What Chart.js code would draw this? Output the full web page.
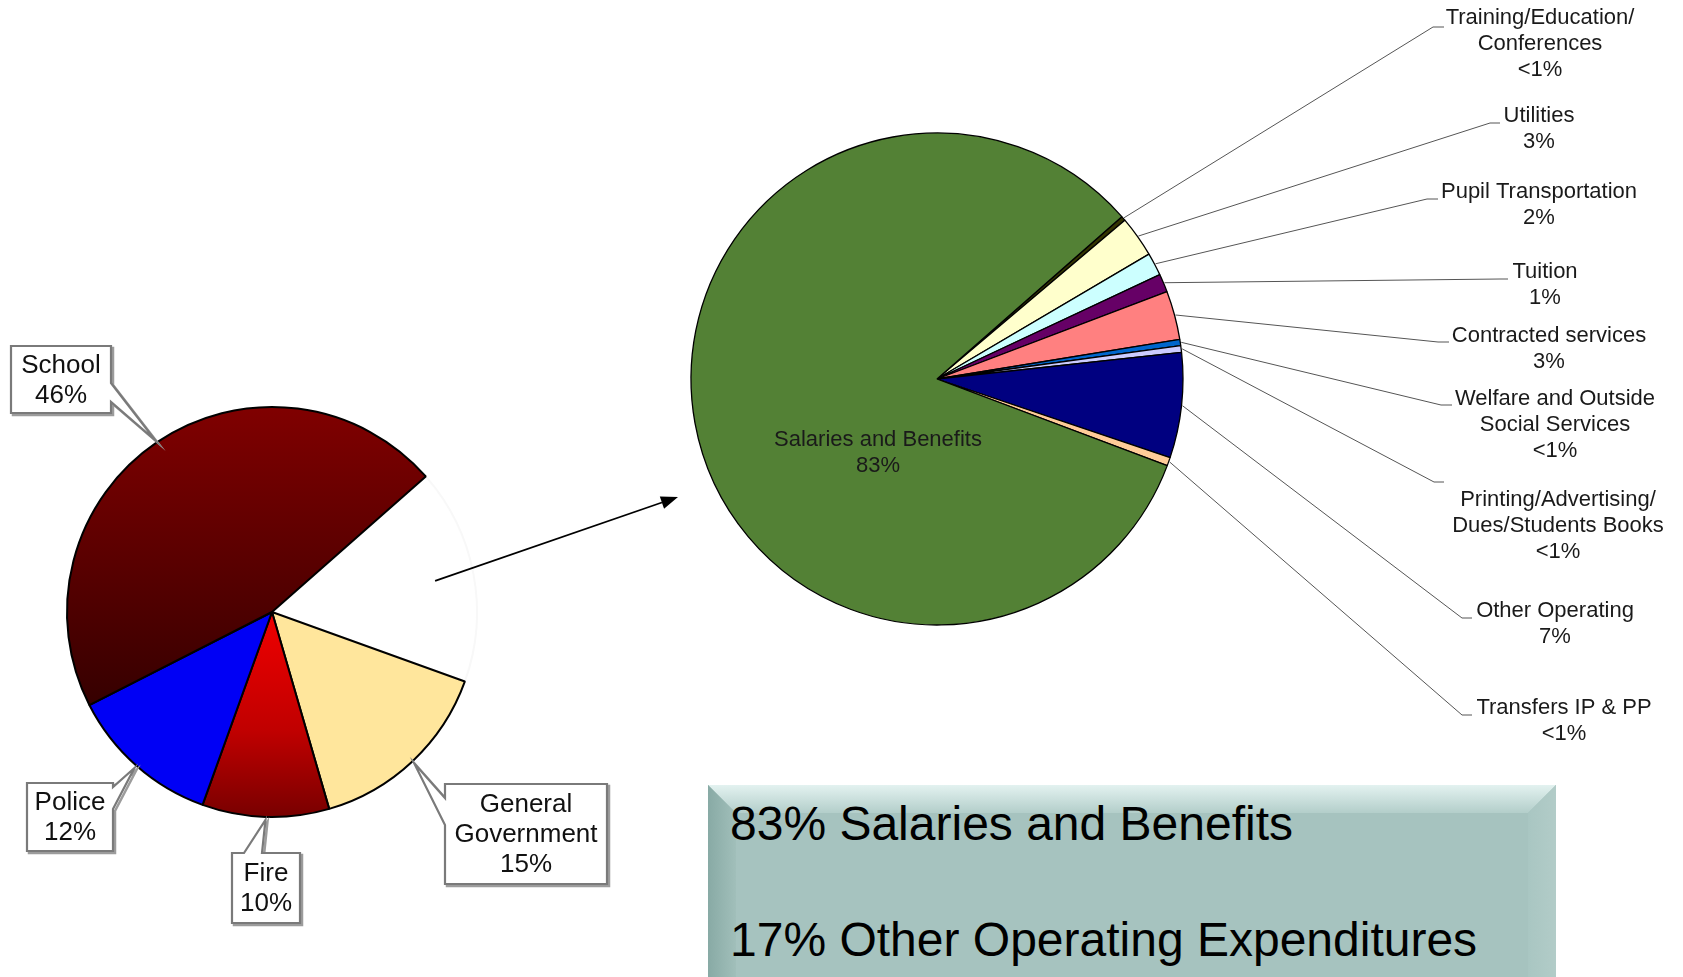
<!DOCTYPE html>
<html>
<head>
<meta charset="utf-8">
<title>Operating Expenditures</title>
<script src="https://cdn.jsdelivr.net/npm/chart.js@4.4.1/dist/chart.umd.min.js"></script>
<style>
  html, body { margin: 0; padding: 0; background: #fff; overflow: hidden; }
  body { position: relative; width: 1683px; height: 977px; font-family: 'Liberation Sans', Arial, sans-serif; }
  canvas { position: absolute; left: 0; top: 0; }
  .summary {
    position: absolute; left: 708px; top: 785px; width: 848px; height: 225px;
    background: #a6c3bf; box-shadow: inset 0 0 0 1px #93b5b0; overflow: hidden;
  }
  .bevel { position: absolute; left: 0; top: 0; right: 0; bottom: 0; }
  .bevel.top {
    background: linear-gradient(#e3f2f0, #b3cecA 28px, transparent 28px);
    clip-path: polygon(0 0, 100% 0, calc(100% - 28px) 28px, 28px 28px);
  }
  .bevel.left {
    background: linear-gradient(to right, #88aaa5, #a1bfba 28px, transparent 28px);
    clip-path: polygon(0 0, 28px 28px, 28px calc(100% - 28px), 0 100%);
  }
  .bevel.right {
    background: linear-gradient(to left, #b2ccc8, #a9c6c2 28px, transparent 28px);
    clip-path: polygon(100% 0, 100% 100%, calc(100% - 28px) calc(100% - 28px), calc(100% - 28px) 28px);
  }
  .summary .line {
    position: absolute; left: 22px; white-space: nowrap;
    font: 48px/48px 'Liberation Sans', Arial, sans-serif; color: #000;
  }
</style>
</head>
<body>
<canvas id="budgetChart" width="1683" height="977"></canvas>
<canvas id="operatingChart" width="1683" height="977"></canvas>
<div class="summary">
  <div class="bevel top"></div>
  <div class="bevel left"></div>
  <div class="bevel right"></div>
  <div class="line" id="summaryLine1" style="top:15px"></div>
  <div class="line" id="summaryLine2" style="top:131px"></div>
</div>
<script>
// Town budget by department (the blank slice is the part broken out on the right)
const budgetLabels = ['Other', 'General Government', 'Fire', 'Police', 'School'];
const budgetValues = [17, 15, 10, 12, 46];

// Breakdown of that slice
const operatingLabels = [
  ['Training/Education/', 'Conferences'],
  ['Utilities'],
  ['Pupil Transportation'],
  ['Tuition'],
  ['Contracted services'],
  ['Welfare and Outside', 'Social Services'],
  ['Printing/Advertising/', 'Dues/Students Books'],
  ['Other Operating'],
  ['Transfers IP & PP'],
  ['Salaries and Benefits'],
];
const operatingValues = [0.3, 2.7, 1.5, 1.2, 3.2, 0.4, 0.45, 6.9, 0.55, 82.8];
const operatingColors = ['#333300', '#ffffcc', '#ccffff', '#660066', '#ff8080',
  '#0066cc', '#ccccff', '#000080', '#ffcc99', '#538135'];

const pctText = (v) => (v < 1 ? '<1%' : Math.round(v) + '%');

// callout boxes for the left pie: box rect, which side the pointer leaves from, pointer base offsets
const calloutBoxes = {
  'School': { x: 11, y: 346, w: 100, h: 67, edge: 'right', base: [37, 56] },
  'Police': { x: 27, y: 783, w: 86, h: 68, edge: 'right', base: [4, 26] },
  'Fire': { x: 232, y: 853, w: 68, h: 70, edge: 'top', base: [12, 30] },
  'General Government': { x: 445, y: 784, w: 162, h: 100, edge: 'left', base: [14, 41] },
};

// label placement for the right pie (text centre, elbow and end of the leader line)
const leaderLayout = [
  { tx: 1540, ty: 18, elbow: [1433, 27], end: [1444, 27] },
  { tx: 1539, ty: 116, elbow: [1490, 123], end: [1500, 123] },
  { tx: 1539, ty: 192, elbow: [1427, 199], end: [1438, 199] },
  { tx: 1545, ty: 272, elbow: [1500, 279], end: [1508, 279] },
  { tx: 1549, ty: 336, elbow: [1438, 342], end: [1449, 342] },
  { tx: 1555, ty: 399, elbow: [1441, 405], end: [1452, 405] },
  { tx: 1558, ty: 500, elbow: [1434, 482], end: [1444, 482] },
  { tx: 1555, ty: 611, elbow: [1462, 618], end: [1472, 618] },
  { tx: 1564, ty: 708, elbow: [1462, 715], end: [1472, 715] },
];

const budgetFill = (context) => {
  const chart = context.chart;
  const label = budgetLabels[context.dataIndex];
  const area = chart.chartArea;
  if (label === 'Other') return '#ffffff';
  if (label === 'General Government') return '#ffe69c';
  if (label === 'Police') return '#0000f5';
  if (!area) return label === 'Fire' ? '#c00000' : '#600000';
  const cy = (area.top + area.bottom) / 2;
  const r = (area.bottom - area.top) / 2;
  if (label === 'Fire') {
    const g = chart.ctx.createLinearGradient(0, cy, 0, cy + r);
    g.addColorStop(0, '#f00000');
    g.addColorStop(0.58, '#c00000');
    g.addColorStop(1, '#780000');
    return g;
  }
  const g = chart.ctx.createLinearGradient(0, cy - r, 0, cy + 0.45 * r);
  g.addColorStop(0, '#800000');
  g.addColorStop(1, '#360000');
  return g;
};

const calloutPath = (ctx, box, tip, dx, dy) => {
  const x = box.x + dx, y = box.y + dy, w = box.w, h = box.h;
  const [b1, b2] = box.base;
  const tx = tip.x + dx, ty = tip.y + dy;
  ctx.beginPath();
  if (box.edge === 'right') {
    ctx.moveTo(x, y); ctx.lineTo(x + w, y);
    ctx.lineTo(x + w, y + b1); ctx.lineTo(tx, ty); ctx.lineTo(x + w, y + b2);
    ctx.lineTo(x + w, y + h); ctx.lineTo(x, y + h);
  } else if (box.edge === 'top') {
    ctx.moveTo(x, y); ctx.lineTo(x + b1, y); ctx.lineTo(tx, ty); ctx.lineTo(x + b2, y);
    ctx.lineTo(x + w, y); ctx.lineTo(x + w, y + h); ctx.lineTo(x, y + h);
  } else {
    ctx.moveTo(x, y); ctx.lineTo(x + w, y); ctx.lineTo(x + w, y + h); ctx.lineTo(x, y + h);
    ctx.lineTo(x, y + b2); ctx.lineTo(tx, ty); ctx.lineTo(x, y + b1);
  }
  ctx.closePath();
};

const calloutPlugin = {
  id: 'callouts',
  afterDatasetsDraw(chart) {
    const ctx = chart.ctx;
    const arcs = chart.getDatasetMeta(0).data;
    ctx.save();
    budgetLabels.forEach((label, i) => {
      const box = calloutBoxes[label];
      if (!box) return;
      const arc = arcs[i];
      const mid = (arc.startAngle + arc.endAngle) / 2;
      const tip = {
        x: arc.x + Math.cos(mid) * (arc.outerRadius + 3),
        y: arc.y + Math.sin(mid) * (arc.outerRadius + 3),
      };
      // drop shadow, then the box itself
      calloutPath(ctx, box, tip, 2, 2);
      ctx.strokeStyle = '#9c9c9c';
      ctx.lineWidth = 2.5;
      ctx.stroke();
      calloutPath(ctx, box, tip, 0, 0);
      ctx.fillStyle = '#ffffff';
      ctx.fill();
      ctx.strokeStyle = '#7a7a7a';
      ctx.lineWidth = 2.2;
      ctx.stroke();

      const lines = label.split(' ').concat(pctText(budgetValues[i]));
      ctx.fillStyle = '#111';
      ctx.font = "26px 'Liberation Sans', Arial, sans-serif";
      ctx.textAlign = 'center';
      ctx.textBaseline = 'middle';
      const cx = box.x + box.w / 2;
      const top = box.y + box.h / 2 - ((lines.length - 1) * 30) / 2;
      lines.forEach((t, k) => ctx.fillText(t, cx, top + k * 30 + 1));
    });
    ctx.restore();
  },
};

// arrow from the blank slice over to the breakdown pie
const arrowPlugin = {
  id: 'arrow',
  afterDraw(chart) {
    const ctx = chart.ctx;
    const arc = chart.getDatasetMeta(0).data[budgetLabels.indexOf('Other')];
    const mid = (arc.startAngle + arc.endAngle) / 2;
    const x0 = arc.x + Math.cos(mid) * arc.outerRadius * 0.81;
    const y0 = arc.y + Math.sin(mid) * arc.outerRadius * 0.81;
    const x1 = 678, y1 = 497;
    const ang = Math.atan2(y1 - y0, x1 - x0);
    const len = 17, half = 6.5;
    ctx.save();
    ctx.strokeStyle = '#000';
    ctx.lineWidth = 1.7;
    ctx.beginPath();
    ctx.moveTo(x0, y0);
    ctx.lineTo(x1 - Math.cos(ang) * len, y1 - Math.sin(ang) * len);
    ctx.stroke();
    ctx.fillStyle = '#000';
    ctx.beginPath();
    ctx.moveTo(x1, y1);
    ctx.lineTo(x1 - Math.cos(ang) * len - Math.sin(ang) * half, y1 - Math.sin(ang) * len + Math.cos(ang) * half);
    ctx.lineTo(x1 - Math.cos(ang) * len + Math.sin(ang) * half, y1 - Math.sin(ang) * len - Math.cos(ang) * half);
    ctx.closePath();
    ctx.fill();
    ctx.restore();
  },
};

const leaderPlugin = {
  id: 'leaders',
  afterDatasetsDraw(chart) {
    const ctx = chart.ctx;
    const arcs = chart.getDatasetMeta(0).data;
    ctx.save();
    ctx.font = "22px 'Liberation Sans', Arial, sans-serif";
    ctx.textAlign = 'center';
    ctx.textBaseline = 'middle';
    operatingLabels.forEach((lines, i) => {
      const arc = arcs[i];
      const text = lines.concat(pctText(operatingValues[i]));
      const spot = leaderLayout[i];
      if (!spot) {
        // the big slice carries its label inside
        ctx.fillStyle = '#1a1a1a';
        text.forEach((t, k) => ctx.fillText(t, arc.x - 59, arc.y + 61 + k * 26));
        return;
      }
      const mid = (arc.startAngle + arc.endAngle) / 2;
      ctx.strokeStyle = '#555';
      ctx.lineWidth = 1;
      ctx.beginPath();
      ctx.moveTo(arc.x + Math.cos(mid) * (arc.outerRadius + 1), arc.y + Math.sin(mid) * (arc.outerRadius + 1));
      ctx.lineTo(spot.elbow[0], spot.elbow[1]);
      ctx.lineTo(spot.end[0], spot.end[1]);
      ctx.stroke();
      ctx.fillStyle = '#1a1a1a';
      text.forEach((t, k) => ctx.fillText(t, spot.tx, spot.ty + k * 26));
    });
    ctx.restore();
  },
};

new Chart(document.getElementById('budgetChart'), {
  type: 'pie',
  data: {
    labels: budgetLabels,
    datasets: [{
      data: budgetValues,
      backgroundColor: budgetFill,
      borderColor: budgetLabels.map((l) => (l === 'Other' ? '#f8f8f8' : '#000')),
      borderWidth: 2,
      radius: 205,
      hoverOffset: 0,
    }],
  },
  options: {
    responsive: false,
    animation: false,
    events: [],
    rotation: 48.6,
    layout: { padding: { left: 67, top: 407, right: 1206, bottom: 160 } },
    plugins: { legend: { display: false }, tooltip: { enabled: false } },
  },
  plugins: [calloutPlugin, arrowPlugin],
});

new Chart(document.getElementById('operatingChart'), {
  type: 'pie',
  data: {
    labels: operatingLabels,
    datasets: [{
      data: operatingValues,
      backgroundColor: operatingColors,
      borderColor: '#000',
      borderWidth: 1.3,
      radius: 246,
      hoverOffset: 0,
    }],
  },
  options: {
    responsive: false,
    animation: false,
    events: [],
    rotation: 48.7,
    layout: { padding: { left: 693, top: 135, right: 502, bottom: 354 } },
    plugins: { legend: { display: false }, tooltip: { enabled: false } },
  },
  plugins: [leaderPlugin],
});

// summary panel under the breakdown
const salaries = operatingValues[operatingValues.length - 1];
document.getElementById('summaryLine1').textContent = Math.round(salaries) + '% Salaries and Benefits';
document.getElementById('summaryLine2').textContent = Math.round(100 - salaries) + '% Other Operating Expenditures';
</script>
</body>
</html>
